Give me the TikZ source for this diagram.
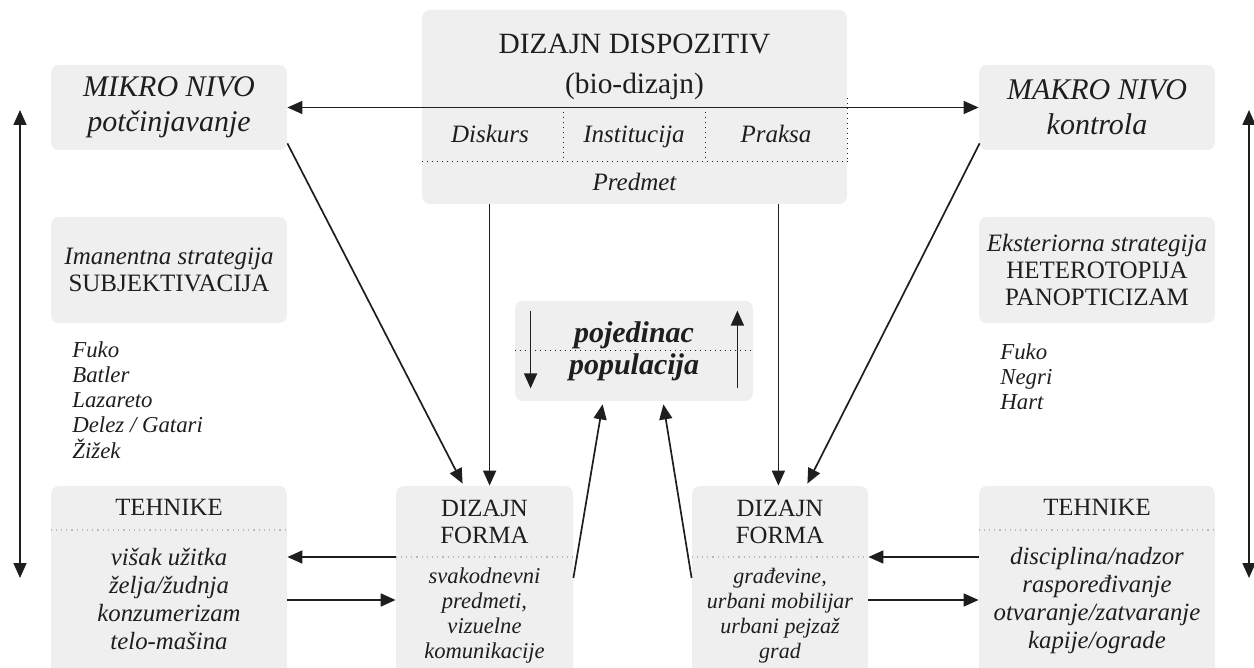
\documentclass[tikz,border=0pt]{standalone}
\usepackage{fontspec}
\setmainfont{Liberation Serif}
\usepackage{tikz}
\usetikzlibrary{arrows.meta, calc}

\definecolor{boxgray}{HTML}{EFEFEF}
\definecolor{ink}{HTML}{1E1E1E}

\tikzset{
  panel/.style = {fill=boxgray, rounded corners=4pt, inner sep=0pt, align=center},
  arr/.style = {draw=ink, line width=0.85pt, -{Triangle[length=7.5pt, width=6.5pt]}},
  darr/.style = {draw=ink, line width=0.85pt, {Triangle[length=7.5pt, width=6.5pt]}-{Triangle[length=7.5pt, width=6.5pt]}},
  sep/.style = {draw=ink, dotted, line width=0.5pt},
  lsep/.style = {draw=gray!55, dotted, line width=0.6pt},
  cell/.style = {anchor=base, font=\fontsize{12.5}{14}\selectfont\itshape},
  listL/.style = {anchor=west, align=left, inner sep=0pt, font=\fontsize{11.4}{12.6}\selectfont\itshape},
}

\begin{document}
\begin{tikzpicture}[x=0.5pt, y=-0.5pt, text=ink, font=\fontsize{12.5}{13.5}\selectfont]
\path[use as bounding box] (0,0) rectangle (1254,668);
\clip (0,0) rectangle (1254,668);

% panels
\node[panel, minimum width=212.5pt, minimum height=97pt] (dispozitiv) at (634.5,107) {};
\node[panel, minimum width=118pt, minimum height=42.5pt, font=\fontsize{15}{17.5}\selectfont\itshape] (mikro) at (169,107.5) {MIKRO NIVO\\potčinjavanje};
\node[panel, minimum width=118pt, minimum height=42.5pt, font=\fontsize{15}{17.5}\selectfont\itshape] (makro) at (1097,107.5) {MAKRO NIVO\\kontrola};
\node[panel, minimum width=118pt, minimum height=53pt] (imanentna) at (169,270) {\textit{Imanentna strategija}\\SUBJEKTIVACIJA};
\node[panel, minimum width=118pt, minimum height=53pt] (eksteriorna) at (1097,270) {\textit{Eksteriorna strategija}\\HETEROTOPIJA\\PANOPTICIZAM};
\node[panel, minimum width=119pt, minimum height=50pt] (pojedinac) at (634,351) {};
\node[panel, minimum width=118pt, minimum height=102pt] (tehL) at (169,588) {};
\node[panel, minimum width=88.5pt, minimum height=102pt] (formaL) at (484.5,588) {};
\node[panel, minimum width=88pt, minimum height=102pt] (formaR) at (780,588) {};
\node[panel, minimum width=118pt, minimum height=102pt] (tehR) at (1097,588) {};

% dispozitiv
\node[align=center, font=\fontsize{14.7}{20}\selectfont] (naslov) at (634.5,67) {DIZAJN DISPOZITIV\\(bio-dizajn)};
\node[cell] (diskurs) at (490,143) {Diskurs};
\node[cell] (institucija) at (634,143) {Institucija};
\node[cell] (praksa) at (776,143) {Praksa};
\node[cell] (predmet) at (634.5,191) {Predmet};
\draw[sep] ($(dispozitiv.west)+(0,55)$) -- ($(dispozitiv.east)+(0,55)$);
\draw[sep] (563,107) -- (563,162);
\draw[sep] (705,107) -- (705,162);
\draw[sep] (847,98) -- (847,162);

% pojedinac / populacija
\node[anchor=base, font=\fontsize{15}{18}\selectfont\bfseries\itshape] (pojtxt) at (634,343) {pojedinac};
\node[anchor=base, font=\fontsize{15}{18}\selectfont\bfseries\itshape] (poptxt) at (634,375) {populacija};
\draw[sep] (pojedinac.west) -- (pojedinac.east);
\draw[arr] ($(pojedinac.north west)+(16,10)$) -- ($(pojedinac.south west)+(16,-13)$);
\draw[arr] ($(pojedinac.south east)+(-16,-13)$) -- ($(pojedinac.north east)+(-16,10)$);

% autori
\node[listL] (autoriL) at (72,400) {Fuko\\Batler\\Lazareto\\Delez / Gatari\\Žižek};
\node[listL] (autoriR) at (1000,377) {Fuko\\Negri\\Hart};

% tehnike / forma
\node[anchor=base, font=\fontsize{12.4}{13.5}\selectfont] (tehLnaslov) at (169,516) {TEHNIKE};
\node[align=center, font=\fontsize{12.4}{14}\selectfont\itshape] (tehLlista) at (169,599) {višak užitka\\želja/žudnja\\konzumerizam\\telo-mašina};
\node[align=center, font=\fontsize{12.4}{13.5}\selectfont] (formaLnaslov) at (484.5,521.5) {DIZAJN\\FORMA};
\node[align=center, font=\fontsize{11.3}{12.5}\selectfont\itshape] (formaLlista) at (484.5,615.5) {svakodnevni\\predmeti,\\vizuelne\\komunikacije};
\node[align=center, font=\fontsize{12.4}{13.5}\selectfont] (formaRnaslov) at (780,521.5) {DIZAJN\\FORMA};
\node[align=center, font=\fontsize{11}{12.5}\selectfont\itshape] (formaRlista) at (780,615.5) {građevine,\\urbani mobilijar\\urbani pejzaž\\grad};
\node[anchor=base, font=\fontsize{12.4}{13.5}\selectfont] (tehRnaslov) at (1097,516) {TEHNIKE};
\node[align=center, font=\fontsize{12.4}{14}\selectfont\itshape] (tehRlista) at (1097,601) {disciplina/nadzor\\raspoređivanje\\otvaranje/zatvaranje\\kapije/ograde};
\draw[lsep] ($(tehL.west)+(0,-58)$) -- ($(tehL.east)+(0,-58)$);
\draw[lsep] ($(tehR.west)+(0,-58)$) -- ($(tehR.east)+(0,-58)$);
\draw[lsep] ($(formaL.west)+(0,-31)$) -- ($(formaL.east)+(0,-31)$);
\draw[lsep] ($(formaR.west)+(0,-31)$) -- ($(formaR.east)+(0,-31)$);

% connectors
\draw[darr] (mikro.east) -- (makro.west);
\draw[arr] ($(mikro.south east)+(0,-7)$) -- ($(formaL.north west)+(67,-2)$);
\draw[arr] ($(makro.south west)+(1,-7)$) -- ($(formaR.north east)+(-61,-2)$);
\draw[arr] ($(dispozitiv.south west)+(68,0)$) coordinate (dk) -- (dk |- formaL.north);
\draw[arr] ($(dispozitiv.south east)+(-69,0)$) coordinate (pk) -- (pk |- formaR.north);
\draw[arr] ($(formaL.east)+(0,-10)$) -- ($(pojedinac.south west)+(88,3)$);
\draw[arr] ($(formaR.west)+(0,-10)$) -- ($(pojedinac.south east)+(-90,3)$);
\draw[arr] ($(formaL.west)+(0,-31)$) -- ($(tehL.east)+(0,-31)$);
\draw[arr] ($(tehL.east)+(0,12)$) -- ($(formaL.west)+(0,12)$);
\draw[arr] ($(tehR.west)+(0,-31)$) -- ($(formaR.east)+(0,-31)$);
\draw[arr] ($(formaR.east)+(0,12)$) -- ($(tehR.west)+(0,12)$);

% levo / desno
\coordinate (lgore) at (20,110);
\coordinate (ldole) at (20,578);
\coordinate (dgore) at (1249,110);
\coordinate (ddole) at (1249,578);
\draw[darr] (lgore) -- (ldole);
\draw[darr] (dgore) -- (ddole);
\end{tikzpicture}
\end{document}
